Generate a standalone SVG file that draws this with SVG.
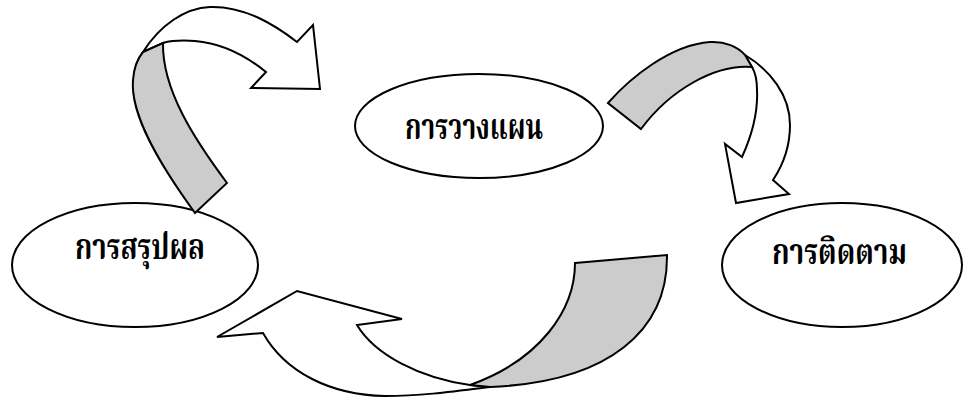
<svg xmlns="http://www.w3.org/2000/svg" width="966" height="398" viewBox="0 0 966 398">
<style>
.n{fill:#fff;stroke:#000;stroke-width:2}
.t{font-family:'Noto Serif Thai','Noto Sans Thai','Liberation Serif',serif;font-size:35px;font-weight:bold;fill:#000}
.w{fill:#fff;stroke:#000;stroke-width:2;stroke-linejoin:miter}
.g{fill:#cccccc;stroke:#000;stroke-width:2;stroke-linejoin:miter}
</style>
<rect width="966" height="398" fill="#fff"/>
<g id="node-plan">
<ellipse class="n" cx="479" cy="126" rx="124" ry="52"/>
<text class="t" x="405" y="139" textLength="138" lengthAdjust="spacingAndGlyphs">การวางแผน</text>
</g>
<g id="node-summary">
<ellipse class="n" cx="135" cy="265" rx="123" ry="62"/>
<text class="t" x="75" y="259" textLength="130" lengthAdjust="spacingAndGlyphs">การสรุปผล</text>
</g>
<g id="node-follow">
<ellipse class="n" cx="842" cy="265" rx="120" ry="62"/>
<text class="t" x="772" y="264" textLength="135" lengthAdjust="spacingAndGlyphs">การติดตาม</text>
</g>
<g id="connectors">
<g id="arrow-summary-plan">
<path class="w" d="M143,52 C160,25 185,8 210,7 C245,6 275,25 297,42 L313,25 L320,89 L251,88 L266,72 C245,55 220,43 195,41 C180,40 170,41 163,43 Z"/>
<path class="g" d="M195,213 C160,165 130,115 133,80 C134,66 138,58 143,52 L163,43 C162,90 195,140 227,183 Z"/>
</g>
<g id="arrow-plan-follow">
<path class="w" d="M745,55 C770,70 790,95 790,125 C790,145 783,165 773,180 L789,194 L736,203 L725,144 L742,157 C752,135 758,110 757,90 C757,80 755,72 752,67 Z"/>
<path class="g" d="M608,103 C630,78 670,45 710,42 C725,41 738,47 745,55 L752,67 C715,64 670,90 641,129 Z"/>
</g>
<g id="arrow-follow-summary">
<path class="w" d="M490,387 C450,392 420,396 385,396 C330,395 285,372 263,333 L217,337 L297,291 L402,319 L357,325 C375,355 420,378 470,385 Z"/>
<path class="g" d="M575,263 L667,255 C668,330 610,382 490,387 L470,385 C540,360 575,310 575,263 Z"/>
</g>
</g>
</svg>
